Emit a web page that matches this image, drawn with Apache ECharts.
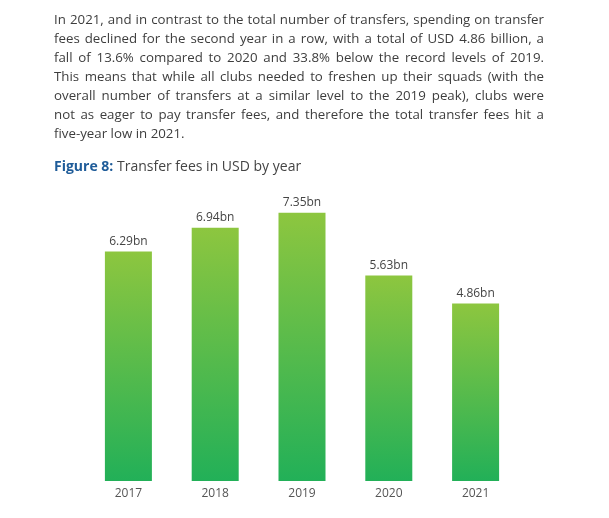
<!DOCTYPE html>
<html><head><meta charset="utf-8">
<script src="https://cdn.jsdelivr.net/npm/echarts@6/dist/echarts.min.js"></script>
<style>html,body{margin:0;padding:0;background:#fff}#c{width:609px;height:518px}</style>
</head><body><div id="c"></div>
<script>
const years = ['2017', '2018', '2019', '2020', '2021'];
const fees = [6.29, 6.94, 7.35, 5.63, 4.86];
const valueLabels = ['6.29bn', '6.94bn', '7.35bn', '5.63bn', '4.86bn'];
const paragraphLines = [
  'In 2021, and in contrast to the total number of transfers, spending on transfer',
  'fees declined for the second year in a row, with a total of USD 4.86 billion, a',
  'fall of 13.6% compared to 2020 and 33.8% below the record levels of 2019.',
  'This means that while all clubs needed to freshen up their squads (with the',
  'overall number of transfers at a similar level to the 2019 peak), clubs were',
  'not as eager to pay transfer fees, and therefore the total transfer fees hit a',
  'five-year low in 2021.'
];
const titleBold = 'Figure 8:';
const titleRest = ' Transfer fees in USD by year';

const FONT = '"Open Sans", sans-serif';
const ctx = document.createElement('canvas').getContext('2d');
function measure(t, size, weight) {
  ctx.font = (weight || 'normal') + ' ' + size + 'px ' + FONT;
  return ctx.measureText(t).width;
}
const pLeft = 54, pRight = 544, pWidth = pRight - pLeft;
const pSize = 13.5;
const maxNat = Math.max.apply(null, paragraphLines.map(l => measure(l, pSize)));
const sx = Math.min(1, (pWidth - 8) / maxNat);

const graphics = [];
paragraphLines.forEach((line, i) => {
  const y = 20 + i * 19;
  const last = i === paragraphLines.length - 1;
  const words = line.split(' ');
  const ws = words.map(w => measure(w, pSize) * sx);
  const sum = ws.reduce((a, b) => a + b, 0);
  const gap = last ? measure(' ', pSize) * sx : (pWidth - sum) / (words.length - 1);
  let x = pLeft;
  words.forEach((w, k) => {
    graphics.push({type: 'text', x: x, y: y, scaleX: sx, style: {text: w, font: pSize + 'px ' + FONT, fill: '#3d3d3d', verticalAlign: 'middle'}});
    x += ws[k] + gap;
  });
});
const tSize = 14;
const boldW = measure(titleBold, tSize, 'bold');
graphics.push({type: 'text', x: pLeft, y: 167, style: {text: titleBold, font: 'bold ' + tSize + 'px ' + FONT, fill: '#1f5c99', verticalAlign: 'middle'}});
graphics.push({type: 'text', x: pLeft + boldW, y: 167, style: {text: titleRest, font: tSize + 'px ' + FONT, fill: '#444444', verticalAlign: 'middle'}});

const chart = echarts.init(document.getElementById('c'), null, {renderer: 'canvas'});
chart.setOption({
  animation: false,
  backgroundColor: '#ffffff',
  graphic: graphics,
  grid: {left: 85, right: 90, top: 189, bottom: 37},
  xAxis: {
    type: 'category', data: years,
    axisLine: {show: false}, axisTick: {show: false},
    axisLabel: {color: '#555555', fontSize: 12, fontFamily: FONT, margin: 7}
  },
  yAxis: {type: 'value', min: 0, max: 8, show: false, splitLine: {show: false}},
  series: [{
    type: 'bar', data: fees, barWidth: 47,
    itemStyle: {color: new echarts.graphic.LinearGradient(0, 0, 0, 1, [
      {offset: 0, color: '#8dc63f'}, {offset: 1, color: '#22b058'}
    ])},
    label: {
      show: true, position: 'top', distance: 4,
      color: '#444444', fontSize: 12, fontFamily: FONT,
      formatter: p => valueLabels[p.dataIndex]
    }
  }]
});
</script>
</body></html>
